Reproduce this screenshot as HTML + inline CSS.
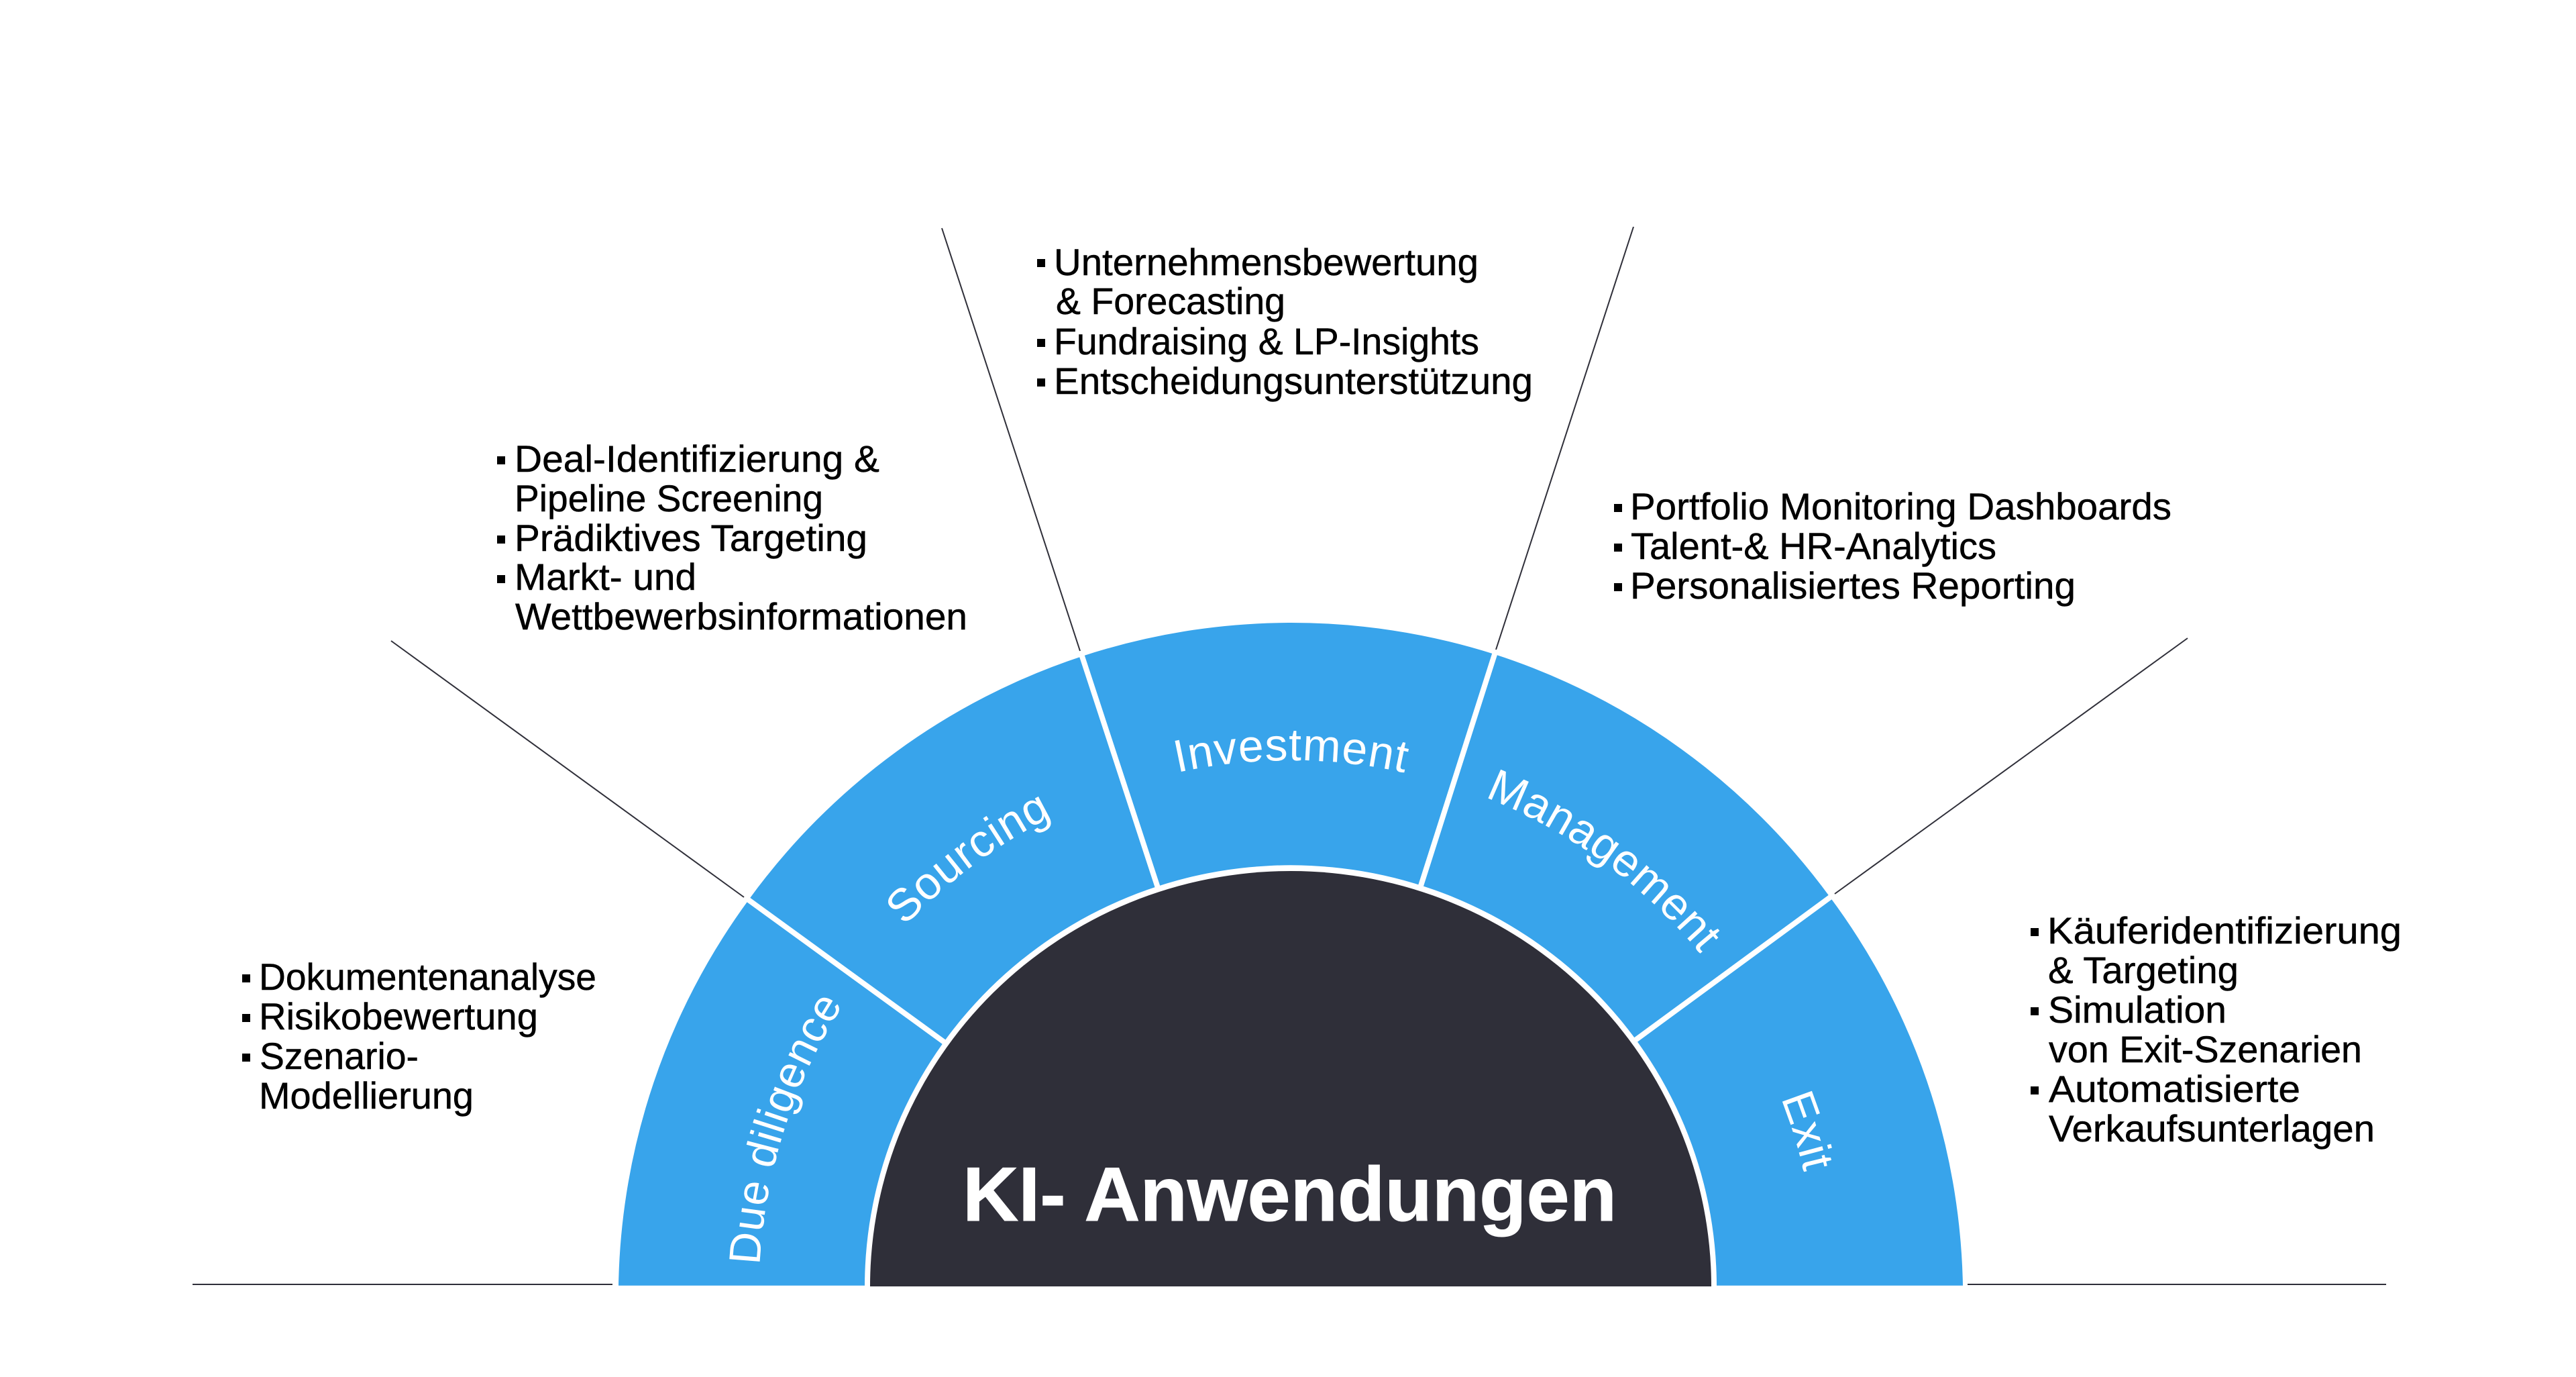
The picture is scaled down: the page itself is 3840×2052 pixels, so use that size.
<!DOCTYPE html>
<html lang="de">
<head>
<meta charset="utf-8">
<title>KI-Anwendungen</title>
<style>
html,body{margin:0;padding:0;background:#fff;width:3840px;height:2052px;overflow:hidden}
svg{display:block}
.t{font-family:"Liberation Sans",sans-serif;font-size:56px;fill:#000;stroke:#000;stroke-width:.5px}
.l{font-family:"Liberation Sans",sans-serif;font-size:68px;letter-spacing:1px;fill:#fff;text-anchor:middle}
</style>
</head>
<body>
<svg width="3840" height="2052" viewBox="0 0 3840 2052" xmlns="http://www.w3.org/2000/svg">
<defs>
<path id="arc" d="M1131.5 1925A792 792 0 0 1 2715.5 1925"/>
</defs>

<!-- rays and baselines -->
<g stroke="#2f2f39" stroke-width="2" fill="none">
<line x1="287" y1="1914" x2="913" y2="1914"/>
<line x1="2933" y1="1914" x2="3557" y2="1914"/>
<line x1="583" y1="955" x2="1109" y2="1337"/>
<line x1="1404" y1="340" x2="1610" y2="970"/>
<line x1="2435" y1="338" x2="2230" y2="968"/>
<line x1="3261" y1="951" x2="2735" y2="1332"/>
</g>

<!-- ring -->
<path d="M922 1915.7L922 1915A1000 1000 0 0 1 1116 1341A1000 1000 0 0 1 1613 978A1000 1000 0 0 1 2228 975A1000 1000 0 0 1 2728 1337A1000 1000 0 0 1 2926 1915L2926 1915.7Z" fill="#38a4eb"/>
<g stroke="#fff" stroke-width="8">
<line x1="1113" y1="1339" x2="1420" y2="1562"/>
<line x1="1611.7" y1="974" x2="1731.6" y2="1340"/>
<line x1="2229.3" y1="971" x2="2111.6" y2="1340"/>
<line x1="2731" y1="1335" x2="2420" y2="1563"/>
</g>
<path d="M1289 1917A635 628 0 0 1 2559 1917Z" fill="#fff"/>
<path d="M1297 1917A627 619 0 0 1 2551 1917Z" fill="#2f2f39"/>

<!-- ring labels -->
<text class="l" style="font-size:66px"><textPath href="#arc" startOffset="9.9%">Due diligence</textPath></text>
<text class="l"><textPath href="#arc" startOffset="29.7%">Sourcing</textPath></text>
<text class="l"><textPath href="#arc" startOffset="50.05%">Investment</textPath></text>
<text class="l" style="letter-spacing:.5px"><textPath href="#arc" startOffset="70%">Management</textPath></text>
<text class="l" dy="6"><textPath href="#arc" startOffset="90.4%">Exit</textPath></text>

<text x="1435" y="1819" font-family="Liberation Sans, sans-serif" font-weight="700" font-size="114" fill="#fff" stroke="#fff" stroke-width="1" textLength="975" lengthAdjust="spacingAndGlyphs">KI- Anwendungen</text>

<!-- bullets -->
<g fill="#000">
<rect x="361" y="1452" width="12" height="12"/><rect x="361" y="1511" width="12" height="12"/><rect x="361" y="1570" width="12" height="12"/>
<rect x="741" y="680" width="12" height="12"/><rect x="741" y="798" width="12" height="12"/><rect x="741" y="857" width="12" height="12"/>
<rect x="1546" y="386" width="12" height="12"/><rect x="1546" y="505" width="12" height="12"/><rect x="1546" y="564" width="12" height="12"/>
<rect x="2406" y="751" width="12" height="12"/><rect x="2406" y="810" width="12" height="12"/><rect x="2406" y="869" width="12" height="12"/>
<rect x="3027" y="1383" width="12" height="12"/><rect x="3027" y="1501" width="12" height="12"/><rect x="3027" y="1619" width="12" height="12"/>
</g>

<!-- Due diligence list -->
<text class="t" x="386" y="1475" textLength="503" lengthAdjust="spacingAndGlyphs">Dokumentenanalyse</text>
<text class="t" x="386" y="1534" textLength="416" lengthAdjust="spacingAndGlyphs">Risikobewertung</text>
<text class="t" x="387" y="1593" textLength="237" lengthAdjust="spacingAndGlyphs">Szenario-</text>
<text class="t" x="386" y="1652" textLength="320" lengthAdjust="spacingAndGlyphs">Modellierung</text>

<!-- Sourcing list -->
<text class="t" x="767" y="703" textLength="544" lengthAdjust="spacingAndGlyphs">Deal-Identifizierung &amp;</text>
<text class="t" x="767" y="762" textLength="460" lengthAdjust="spacingAndGlyphs">Pipeline Screening</text>
<text class="t" x="767" y="821" textLength="526" lengthAdjust="spacingAndGlyphs">Prädiktives Targeting</text>
<text class="t" x="767" y="879" textLength="271" lengthAdjust="spacingAndGlyphs">Markt- und</text>
<text class="t" x="768" y="938" textLength="674" lengthAdjust="spacingAndGlyphs">Wettbewerbsinformationen</text>

<!-- Investment list -->
<text class="t" x="1571" y="410" textLength="633" lengthAdjust="spacingAndGlyphs">Unternehmensbewertung</text>
<text class="t" x="1574" y="468" textLength="342" lengthAdjust="spacingAndGlyphs">&amp; Forecasting</text>
<text class="t" x="1571" y="528" textLength="634" lengthAdjust="spacingAndGlyphs">Fundraising &amp; LP-Insights</text>
<text class="t" x="1571" y="587" textLength="714" lengthAdjust="spacingAndGlyphs">Entscheidungsunterstützung</text>

<!-- Management list -->
<text class="t" x="2430" y="774" textLength="807" lengthAdjust="spacingAndGlyphs">Portfolio Monitoring Dashboards</text>
<text class="t" x="2431" y="833" textLength="545" lengthAdjust="spacingAndGlyphs">Talent-&amp; HR-Analytics</text>
<text class="t" x="2430" y="892" textLength="664" lengthAdjust="spacingAndGlyphs">Personalisiertes Reporting</text>

<!-- Exit list -->
<text class="t" x="3052" y="1406" textLength="528" lengthAdjust="spacingAndGlyphs">Käuferidentifizierung</text>
<text class="t" x="3053" y="1465" textLength="284" lengthAdjust="spacingAndGlyphs">&amp; Targeting</text>
<text class="t" x="3053" y="1524" textLength="266" lengthAdjust="spacingAndGlyphs">Simulation</text>
<text class="t" x="3054" y="1583" textLength="467" lengthAdjust="spacingAndGlyphs">von Exit-Szenarien</text>
<text class="t" x="3054" y="1642" textLength="375" lengthAdjust="spacingAndGlyphs">Automatisierte</text>
<text class="t" x="3054" y="1701" textLength="486" lengthAdjust="spacingAndGlyphs">Verkaufsunterlagen</text>
</svg>
</body>
</html>
